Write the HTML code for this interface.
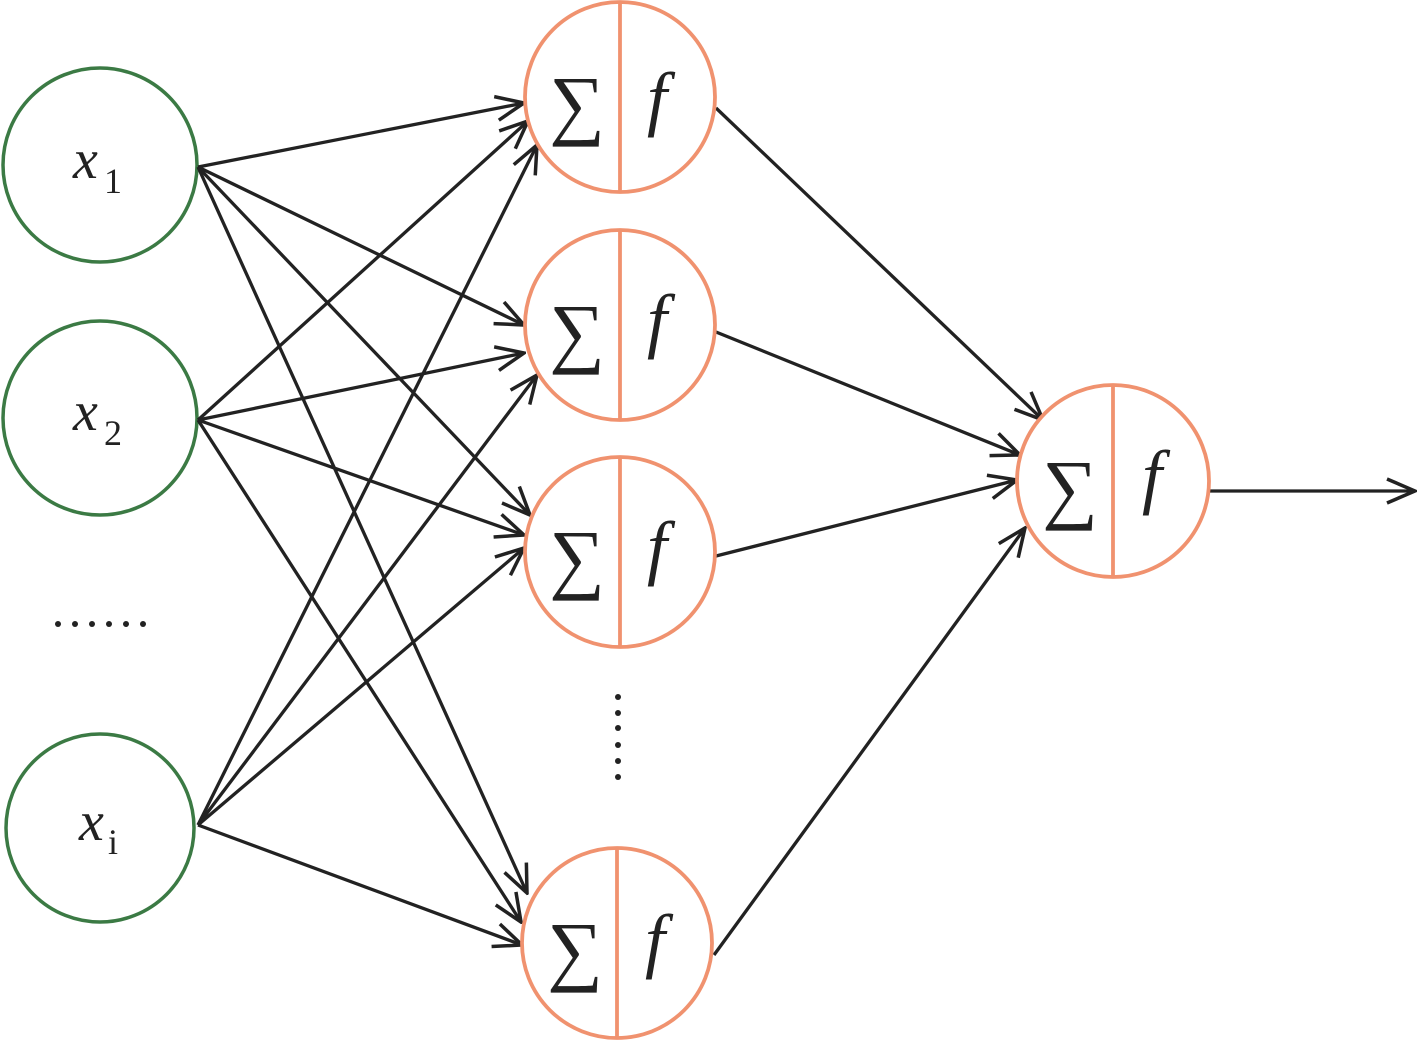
<!DOCTYPE html>
<html><head><meta charset="utf-8"><style>
html,body{margin:0;padding:0;background:#fff;}
svg{display:block;}
</style></head><body>
<svg width="1417" height="1040" viewBox="0 0 1417 1040" xmlns="http://www.w3.org/2000/svg" font-family="'Liberation Serif','DejaVu Serif',serif">
<defs>
<marker id="a" viewBox="-32 -16 34 32" refX="0" refY="0" markerWidth="34" markerHeight="32" markerUnits="userSpaceOnUse" orient="auto">
<polyline points="-28,-12 0,0 -28,12" fill="none" stroke="#222" stroke-width="3.5"/>
</marker>
</defs>
<g stroke="#3b7a44" stroke-width="3.5" fill="none">
<circle cx="100" cy="165" r="97"/>
<circle cx="100" cy="418" r="97"/>
<circle cx="100" cy="828" r="94"/>
</g>
<g stroke="#222" stroke-width="3.3" fill="none" marker-end="url(#a)">
<line x1="198" y1="167" x2="524" y2="103"/>
<line x1="198" y1="167" x2="524" y2="325"/>
<line x1="198" y1="167" x2="530" y2="515"/>
<line x1="198" y1="167" x2="527" y2="893"/>
<line x1="198" y1="420" x2="528" y2="121"/>
<line x1="198" y1="420" x2="524" y2="353"/>
<line x1="198" y1="420" x2="524" y2="535"/>
<line x1="198" y1="420" x2="521" y2="922"/>
<line x1="198" y1="825" x2="537" y2="145"/>
<line x1="198" y1="825" x2="537" y2="375"/>
<line x1="198" y1="825" x2="524" y2="548"/>
<line x1="198" y1="825" x2="522" y2="945"/>
<line x1="716" y1="108" x2="1043" y2="420"/>
<line x1="716" y1="332" x2="1020" y2="455"/>
<line x1="716" y1="556" x2="1017" y2="480"/>
<line x1="714" y1="955" x2="1025" y2="528"/>
<line x1="1210" y1="491" x2="1415" y2="491"/>
</g>
<g stroke="#f0926f" stroke-width="3.8" fill="#fff">
<circle cx="620" cy="97" r="95"/>
<circle cx="620" cy="325" r="95"/>
<circle cx="620" cy="552" r="95"/>
<circle cx="617" cy="943" r="95"/>
<circle cx="1113" cy="481" r="96"/>
</g>
<g stroke="#f0926f" stroke-width="3.8">
<line x1="620" y1="2" x2="620" y2="192"/>
<line x1="620" y1="230" x2="620" y2="420"/>
<line x1="620" y1="457" x2="620" y2="647"/>
<line x1="617" y1="848" x2="617" y2="1038"/>
<line x1="1113" y1="385" x2="1113" y2="577"/>
</g>
<g font-size="78" text-anchor="middle" fill="#222">
<text x="577" y="130">∑</text>
<text x="577" y="358">∑</text>
<text x="577" y="584">∑</text>
<text x="575" y="976">∑</text>
<text x="1070" y="514">∑</text>
</g>
<g font-size="72" font-style="italic" text-anchor="middle" fill="#222">
<text x="657" y="122">f</text>
<text x="657" y="344">f</text>
<text x="657" y="571">f</text>
<text x="655" y="964">f</text>
<text x="1152" y="500">f</text>
</g>
<g font-size="56" font-style="italic" fill="#222">
<text x="73" y="178">x</text>
<text x="73" y="430">x</text>
<text x="79" y="840">x</text>
</g>
<g font-size="36" fill="#222">
<text x="104" y="193">1</text>
<text x="104" y="445">2</text>
<text x="108" y="854">i</text>
</g>
<g fill="#222">
<circle cx="58" cy="624" r="3"/><circle cx="75" cy="624" r="3"/><circle cx="92" cy="624" r="3"/>
<circle cx="109" cy="624" r="3"/><circle cx="126" cy="624" r="3"/><circle cx="143" cy="624" r="3"/>
<circle cx="618" cy="697" r="3"/><circle cx="618" cy="713" r="3"/><circle cx="618" cy="728" r="3"/>
<circle cx="618" cy="745" r="3"/><circle cx="618" cy="761" r="3"/><circle cx="618" cy="777" r="3"/>
</g>
</svg>
</body></html>
